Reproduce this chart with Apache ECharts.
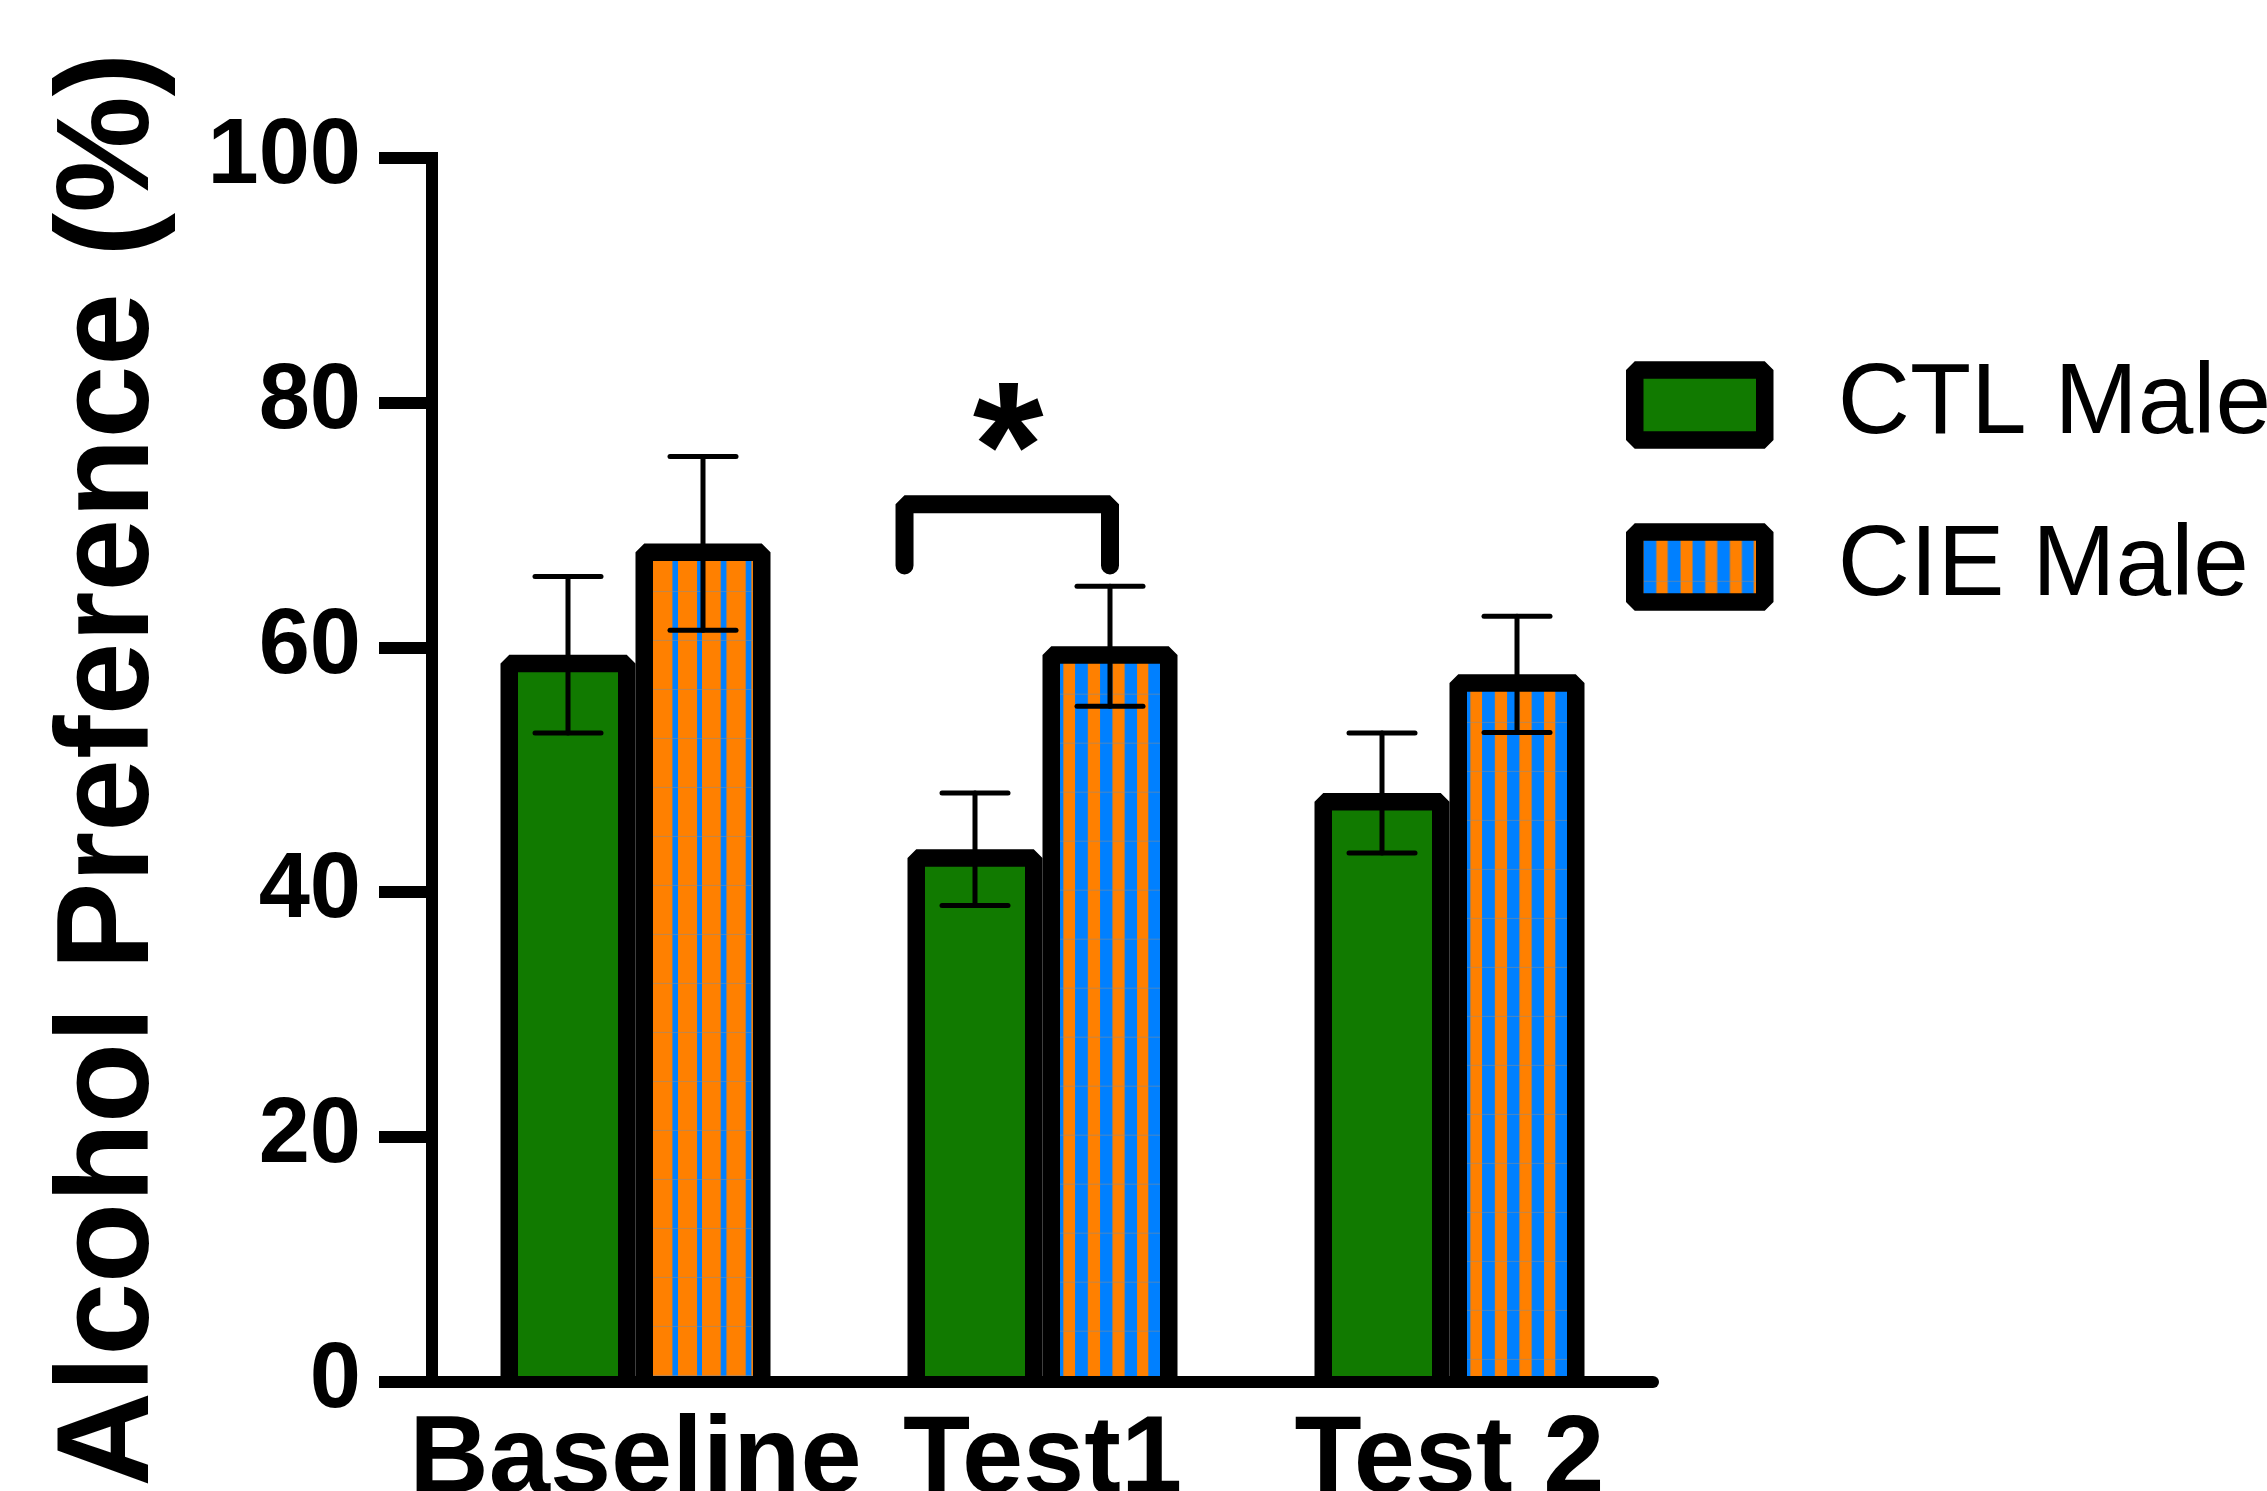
<!DOCTYPE html>
<html><head><meta charset="utf-8">
<script src="https://cdn.jsdelivr.net/npm/echarts@6/dist/echarts.min.js"></script>
<style>html,body{margin:0;padding:0;background:#fff}#c{width:2267px;height:1491px}</style>
</head><body><div id="c"></div>
<script>
// ---------- data ----------
const categories = ['Baseline', 'Test1', 'Test 2'];
const seriesNames = ['CTL Male', 'CIE Male'];
const ctlMean = [59.4, 43.5, 48.1];
const ctlSem  = [6.4, 4.6, 4.9];
const cieMean = [68.5, 60.1, 57.8];
const cieSem  = [7.1, 4.9, 4.75];
const yMin = 0, yMax = 100, yInterval = 20;
const yAxisTitle = 'Alcohol Preference (%)';
// significance bracket: category index, bracket level, leg bottom, label
const sigCategory = [1];
const sigBarY = [71.7];
const sigLegY = [66.7];
const sigLabel = ['*'];

// ---------- style ----------
const FONT = '"Liberation Sans", Arial, Helvetica, sans-serif';
const GREEN = '#117a00', ORANGE = '#ff8000', BLUE = '#0080ff';
const BORDER = 17.5;
const BAR_FRAC = 135 / 407;
const OFF_FRAC = 67.5 / 407;

function makeTile(base, color, stripes, w, h, lineY) {
  const cv = document.createElement('canvas');
  cv.width = w; cv.height = h;
  const g = cv.getContext('2d');
  g.fillStyle = base; g.fillRect(0, 0, w, h);
  g.fillStyle = color;
  stripes.forEach(s => g.fillRect(s[0], 0, s[1] - s[0], h));
  g.fillStyle = 'rgba(140,140,140,0.55)';
  g.fillRect(0, lineY, w, 1);
  return cv;
}
const tileBaseline = makeTile(ORANGE, BLUE, [[19.4,25],[44,49],[67.7,73.4],[92.7,98.4]], 102, 49, 30);
const tileTest = makeTile(BLUE, ORANGE, [[3.3,15],[27.8,40],[52.4,64.6],[77,88.3]], 102, 49, 30);
const tileLegend = makeTile(BLUE, ORANGE, [[12.8,24.2],[37,49],[61.7,73.7],[86.4,98.3],[110.2,114]], 114, 60, 40);
const cieTiles = [tileBaseline, tileTest, tileTest];

function ctlFill() { return GREEN; }
function cieFill(ci, x, y) {
  return { type: 'pattern', image: cieTiles[ci], repeat: 'repeat', x: x, y: y };
}

function barSeries(name, means, offFrac, fillFn, color) {
  return {
    type: 'custom', name: name, z: 2,
    itemStyle: { color: color },
    data: means.map((v, i) => [i, v]),
    encode: { x: 0, y: 1 },
    renderItem: function (params, api) {
      const ci = api.value(0), v = api.value(1);
      const band = api.size([1, 0])[0];
      const c = api.coord([ci, 0])[0] + offFrac * band;
      const base = api.coord([ci, 0])[1];
      const top = api.coord([ci, v])[1];
      const W = band * BAR_FRAC, h = BORDER / 2;
      const L = c - W / 2 + h, R = c + W / 2 - h, T = top + h;
      return { type: 'group', children: [
        { type: 'rect', shape: { x: L, y: T, width: R - L, height: base - T },
          style: { fill: fillFn(ci, L + h, T + h) } },
        { type: 'polyline', shape: { points: [[L, base], [L, T], [R, T], [R, base]] },
          style: { fill: null, stroke: '#000', lineWidth: BORDER, lineJoin: 'bevel', lineCap: 'butt' } }
      ]};
    }
  };
}

function errSeries(name, means, sems, offFrac) {
  return {
    type: 'custom', name: name + ' err', z: 4, silent: true,
    data: means.map((m, i) => [i, m - sems[i], m + sems[i]]),
    encode: { x: 0, y: [1, 2] },
    renderItem: function (params, api) {
      const ci = api.value(0);
      const band = api.size([1, 0])[0];
      const c = api.coord([ci, 0])[0] + offFrac * band;
      const yl = api.coord([ci, api.value(1)])[1];
      const yh = api.coord([ci, api.value(2)])[1];
      const cap = 33;
      const st = { stroke: '#000', lineWidth: 5, lineCap: 'round' };
      return { type: 'group', children: [
        { type: 'line', shape: { x1: c, y1: yl, x2: c, y2: yh }, style: st },
        { type: 'line', shape: { x1: c - cap, y1: yl, x2: c + cap, y2: yl }, style: st },
        { type: 'line', shape: { x1: c - cap, y1: yh, x2: c + cap, y2: yh }, style: st }
      ]};
    }
  };
}

const sigSeries = {
  type: 'custom', name: 'sig', z: 5, silent: true,
  data: sigCategory.map((c, i) => [c, sigBarY[i], sigLegY[i]]),
  encode: { x: 0, y: [1, 2] },
  renderItem: function (params, api) {
    const ci = api.value(0);
    const band = api.size([1, 0])[0];
    const cx = api.coord([ci, 0])[0];
    const L = cx - 0.339 * band, R = cx + OFF_FRAC * band;
    const yb = api.coord([ci, api.value(1)])[1];
    const yl = api.coord([ci, api.value(2)])[1];
    return { type: 'group', children: [
      { type: 'polyline', shape: { points: [[L, yl], [L, yb], [R, yb], [R, yl]] },
        style: { fill: null, stroke: '#000', lineWidth: 18, lineJoin: 'bevel', lineCap: 'round' } },
      { type: 'text', x: (L + R) / 2 + 1, y: yb - 46,
        style: { text: sigLabel[params.dataIndex], fill: '#000', font: 'bold 182px ' + FONT,
                 align: 'center', verticalAlign: 'middle' } }
    ]};
  }
};

const chart = echarts.init(document.getElementById('c'), null, { renderer: 'canvas', width: 2267, height: 1491 });
chart.setOption({
  backgroundColor: '#fff',
  animation: false,
  grid: { left: 432, right: 614, top: 158, bottom: 109.5, containLabel: false, outerBoundsMode: 'none' },
  legend: {
    orient: 'vertical', left: 1626, top: 355, padding: 0, itemGap: 62,
    itemWidth: 130, itemHeight: 70, selectedMode: false,
    textStyle: { fontSize: 100, lineHeight: 100, fontFamily: FONT, color: '#000', padding: [0, 0, 0, 68] },
    data: [
      { name: seriesNames[0], icon: 'rect',
        itemStyle: { color: GREEN, borderColor: '#000', borderWidth: BORDER, borderJoin: 'bevel' } },
      { name: seriesNames[1], icon: 'rect',
        itemStyle: { color: { type: 'pattern', image: tileLegend, repeat: 'repeat', x: BORDER / 2, y: BORDER / 2 },
                     borderColor: '#000', borderWidth: BORDER, borderJoin: 'bevel' } }
    ]
  },
  xAxis: {
    type: 'category', data: categories, z: 6,
    axisLine: { lineStyle: { color: '#000', width: 12 } },
    axisTick: { show: false },
    splitLine: { show: false },
    axisLabel: { interval: 0, margin: 25, color: '#000', fontSize: 110, lineHeight: 110,
                 fontWeight: 'bold', fontFamily: FONT }
  },
  yAxis: {
    type: 'value', min: yMin, max: yMax, interval: yInterval, z: 6,
    axisLine: { show: true, lineStyle: { color: '#000', width: 12, cap: 'square' } },
    axisTick: { show: true, length: 53, lineStyle: { color: '#000', width: 12 } },
    splitLine: { show: false },
    axisLabel: { margin: 71, color: '#000', fontSize: 92, fontWeight: 'bold', fontFamily: FONT },
    name: yAxisTitle, nameLocation: 'middle', nameGap: 255, nameRotate: 90,
    nameTextStyle: { fontSize: 131, lineHeight: 131, fontWeight: 'bold', fontFamily: FONT, color: '#000' }
  },
  series: [
    barSeries(seriesNames[0], ctlMean, -OFF_FRAC, ctlFill, GREEN),
    barSeries(seriesNames[1], cieMean, OFF_FRAC, cieFill, BLUE),
    errSeries(seriesNames[0], ctlMean, ctlSem, -OFF_FRAC),
    errSeries(seriesNames[1], cieMean, cieSem, OFF_FRAC),
    sigSeries
  ]
});
</script></body></html>
